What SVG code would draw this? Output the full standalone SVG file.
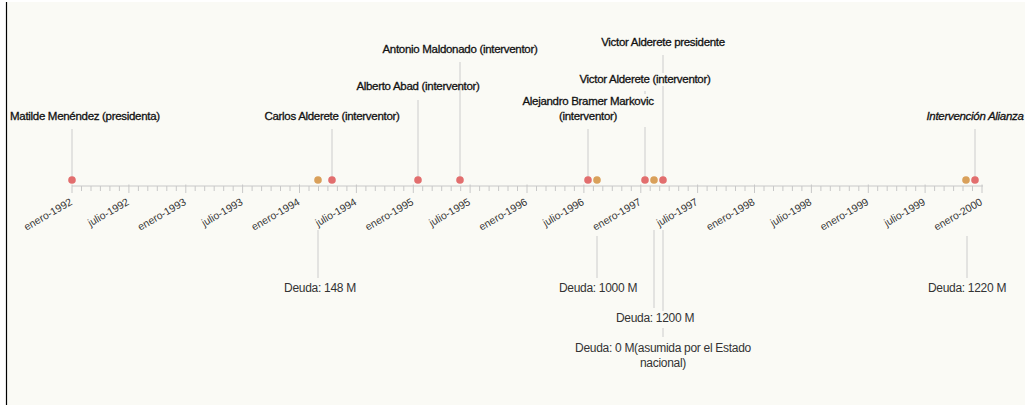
<svg xmlns="http://www.w3.org/2000/svg" width="1025" height="405" viewBox="0 0 1025 405">
<style>
.top{font-family:"Liberation Sans",Arial,sans-serif;font-size:11.5px;fill:#111;stroke:#111;stroke-width:0.3px;text-anchor:middle;letter-spacing:-0.3px}
.bot{font-family:"Liberation Sans",Arial,sans-serif;font-size:12px;fill:#333;text-anchor:middle;letter-spacing:-0.3px}
.tl{font-family:"Liberation Sans",Arial,sans-serif;font-size:10.5px;fill:#333;text-anchor:end}
.stem{stroke:#cccccc;stroke-width:1;fill:none}
.axis{stroke:#c8c8c8;stroke-width:1;fill:none}
.red{fill:#e26e6e}
.org{fill:#d9a05a}
</style>
<rect x="0" y="0" width="1025" height="405" fill="#ffffff"/>
<rect x="7" y="2" width="1018" height="403" fill="#fafaf5"/>
<line x1="6.5" y1="2" x2="6.5" y2="405" stroke="#000" stroke-width="1.2"/>

<g id="axis">
<line class="axis" x1="72" y1="186" x2="983" y2="186"/>
<path class="axis" d="M72,184.5v8.5M128.9,184.5v8.5M185.8,184.5v8.5M242.6,184.5v8.5M299.5,184.5v8.5M356.4,184.5v8.5M413.3,184.5v8.5M470.1,184.5v8.5M527,184.5v8.5M583.9,184.5v8.5M640.8,184.5v8.5M697.6,184.5v8.5M754.5,184.5v8.5M811.4,184.5v8.5M868.3,184.5v8.5M925.1,184.5v8.5M982,184.5v8.5"/>
<path class="axis" d="M81.5,186v5M91,186v5M100.4,186v5M109.9,186v5M119.4,186v5M138.4,186v5M147.8,186v5M157.3,186v5M166.8,186v5M176.3,186v5M195.2,186v5M204.7,186v5M214.2,186v5M223.7,186v5M233.2,186v5M252.1,186v5M261.6,186v5M271.1,186v5M280.5,186v5M290,186v5M309,186v5M318.5,186v5M327.9,186v5M337.4,186v5M346.9,186v5M365.9,186v5M375.3,186v5M384.8,186v5M394.3,186v5M403.8,186v5M422.7,186v5M432.2,186v5M441.7,186v5M451.2,186v5M460.7,186v5M479.6,186v5M489.1,186v5M498.6,186v5M508,186v5M517.5,186v5M536.5,186v5M546,186v5M555.4,186v5M564.9,186v5M574.4,186v5M593.4,186v5M602.8,186v5M612.3,186v5M621.8,186v5M631.3,186v5M650.2,186v5M659.7,186v5M669.2,186v5M678.7,186v5M688.2,186v5M707.1,186v5M716.6,186v5M726.1,186v5M735.5,186v5M745,186v5M764,186v5M773.5,186v5M782.9,186v5M792.4,186v5M801.9,186v5M820.9,186v5M830.3,186v5M839.8,186v5M849.3,186v5M858.8,186v5M877.7,186v5M887.2,186v5M896.7,186v5M906.2,186v5M915.7,186v5M934.6,186v5M944.1,186v5M953.6,186v5M963,186v5M972.5,186v5"/>
<text class="tl" transform="translate(73,204) rotate(-30)">enero-1992</text>
<text class="tl" transform="translate(129.9,204) rotate(-30)">julio-1992</text>
<text class="tl" transform="translate(186.8,204) rotate(-30)">enero-1993</text>
<text class="tl" transform="translate(243.6,204) rotate(-30)">julio-1993</text>
<text class="tl" transform="translate(300.5,204) rotate(-30)">enero-1994</text>
<text class="tl" transform="translate(357.4,204) rotate(-30)">julio-1994</text>
<text class="tl" transform="translate(414.3,204) rotate(-30)">enero-1995</text>
<text class="tl" transform="translate(471.1,204) rotate(-30)">julio-1995</text>
<text class="tl" transform="translate(528,204) rotate(-30)">enero-1996</text>
<text class="tl" transform="translate(584.9,204) rotate(-30)">julio-1996</text>
<text class="tl" transform="translate(641.8,204) rotate(-30)">enero-1997</text>
<text class="tl" transform="translate(698.6,204) rotate(-30)">julio-1997</text>
<text class="tl" transform="translate(755.5,204) rotate(-30)">enero-1998</text>
<text class="tl" transform="translate(812.4,204) rotate(-30)">julio-1998</text>
<text class="tl" transform="translate(869.3,204) rotate(-30)">enero-1999</text>
<text class="tl" transform="translate(926.1,204) rotate(-30)">julio-1999</text>
<text class="tl" transform="translate(983,204) rotate(-30)">enero-2000</text>
</g>

<g id="connectors">
<path class="stem" d="M72,129V180M332,129V180M418,100V180M460,62V180M588,129V180M645,91V94M645,127V180M663,55V73M663,86V180M975,129V180"/>
<path class="stem" d="M318,230V278M597,236V278M654,230V308M663,230V311M663,328V337M967,236V278"/>
</g>

<g id="matilde"><circle class="red" cx="72" cy="180" r="3.8"/><text class="top" x="10" y="120" style="text-anchor:start">Matilde Menéndez (presidenta)</text></g>
<g id="deuda148"><circle class="org" cx="318" cy="180" r="3.8"/><text class="bot" x="320" y="292">Deuda: 148 M</text></g>
<g id="carlos"><circle class="red" cx="332" cy="180" r="3.8"/><text class="top" x="332" y="120">Carlos Alderete (interventor)</text></g>
<g id="alberto"><circle class="red" cx="418" cy="180" r="3.8"/><text class="top" x="418" y="90">Alberto Abad (interventor)</text></g>
<g id="antonio"><circle class="red" cx="460" cy="180" r="3.8"/><text class="top" x="460" y="52.5">Antonio Maldonado (interventor)</text></g>
<g id="alejandro"><circle class="red" cx="588" cy="180" r="3.8"/><text class="top" x="588" y="105">Alejandro Bramer Markovic</text><text class="top" x="588" y="120">(interventor)</text></g>
<g id="deuda1000"><circle class="org" cx="597" cy="180" r="3.8"/><text class="bot" x="598" y="292">Deuda: 1000 M</text></g>
<g id="victor1"><circle class="red" cx="645" cy="180" r="3.8"/><text class="top" x="645" y="82.5">Victor Alderete (interventor)</text></g>
<g id="deuda1200"><circle class="org" cx="654" cy="180" r="3.8"/><text class="bot" x="655" y="322">Deuda: 1200 M</text></g>
<g id="deuda0"><text class="bot" x="663" y="352">Deuda: 0 M(asumida por el Estado</text><text class="bot" x="663" y="367">nacional)</text></g>
<g id="victor2"><circle class="red" cx="663" cy="180" r="3.8"/><text class="top" x="663" y="46">Victor Alderete presidente</text></g>
<g id="deuda1220"><circle class="org" cx="966" cy="180" r="3.8"/><text class="bot" x="967" y="292">Deuda: 1220 M</text></g>
<g id="alianza"><circle class="red" cx="975" cy="180" r="3.8"/><text class="top" x="975" y="120" style="font-style:italic">Intervención Alianza</text></g>
</svg>
